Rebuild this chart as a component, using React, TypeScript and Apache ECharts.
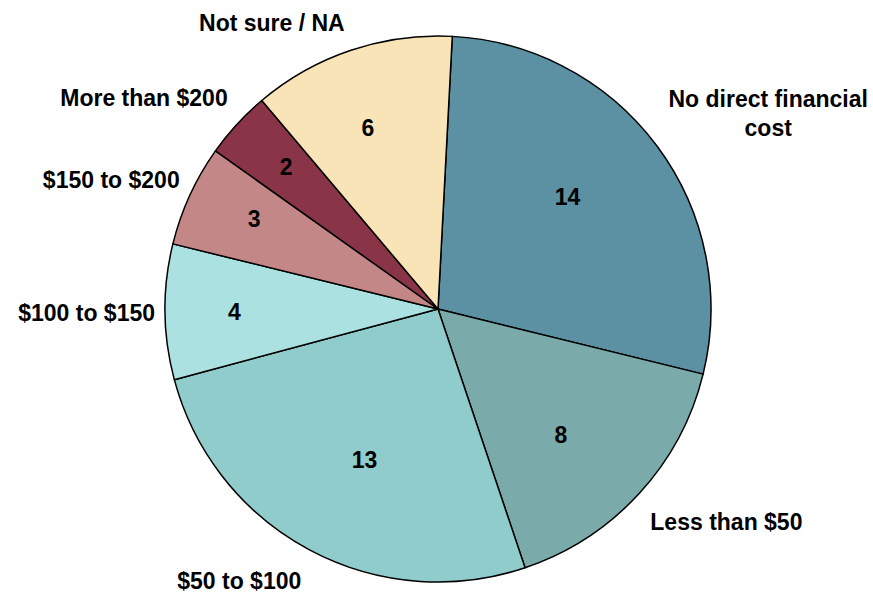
import React, { useEffect, useRef } from 'react';
import * as echarts from 'echarts';

const categories = [
  'No direct financial cost',
  'Less than $50',
  '$50 to $100',
  '$100 to $150',
  '$150 to $200',
  'More than $200',
  'Not sure / NA',
];
const values = [14, 8, 13, 4, 3, 2, 6];
const labelTexts = [
  'No direct financial\ncost',
  'Less than $50',
  '$50 to $100',
  '$100 to $150',
  '$150 to $200',
  'More than $200',
  'Not sure / NA',
];
const colors = ['#5B91A3', '#7AABAA', '#8FCCCB', '#ABE1E1', '#C48787', '#8A3447', '#F8E4B7'];

// label nudges (px) relative to ECharts' default placement
const nameOffsets = [[98, -27], [-1, 21], [2, 23], [5, 1.5], [4, -11], [3, -19], [2, -18]];
const valueOffsets = [[-9, -9], [-4, 9], [8, -1], [-31, 1], [-27, -18], [-25, -25], [-15, -18]];

const FONT = "'Liberation Sans', Arial, sans-serif";

export default function App() {
  const ref = useRef<HTMLDivElement>(null);
  useEffect(() => {
    if (!ref.current) return;
    const chart = echarts.init(ref.current, undefined, { renderer: 'svg' });
    const data = categories.map((name, i) => ({
      name,
      value: values[i],
      itemStyle: { color: colors[i] },
    }));
    const overlayData = categories.map((name, i) => ({ name, value: values[i] }));
    chart.setOption({
      animation: false,
      backgroundColor: '#ffffff',
      series: [
        {
          type: 'pie',
          center: [438, 309],
          radius: 273,
          startAngle: 87,
          clockwise: true,
          avoidLabelOverlap: false,
          data,
          itemStyle: { borderColor: '#000', borderWidth: 1.5 },
          emphasis: { disabled: true },
          label: {
            show: true,
            position: 'outside',
            formatter: (p: any) => labelTexts[p.dataIndex],
            fontFamily: FONT,
            fontSize: 23,
            fontWeight: 'bold',
            color: '#000',
            lineHeight: 29,
          },
          labelLine: { show: false, length: 10, length2: 0 },
          labelLayout: (p: any) => {
            const o = nameOffsets[p.dataIndex];
            const res: any = { dx: o[0], dy: o[1] };
            if (p.dataIndex === 0) res.align = 'center';
            return res;
          },
        },
        {
          type: 'pie',
          center: [438, 309],
          radius: [66, 273],
          startAngle: 87,
          clockwise: true,
          silent: true,
          avoidLabelOverlap: false,
          data: overlayData,
          itemStyle: { color: 'rgba(0,0,0,0)', borderWidth: 0 },
          emphasis: { disabled: true },
          label: {
            show: true,
            position: 'inside',
            formatter: '{c}',
            fontFamily: FONT,
            fontSize: 23,
            fontWeight: 'bold',
            color: '#000',
          },
          labelLine: { show: false },
          labelLayout: (p: any) => {
            const o = valueOffsets[p.dataIndex];
            return { dx: o[0], dy: o[1] };
          },
        },
      ],
    });
    return () => chart.dispose();
  }, []);
  return (
    <div
      ref={ref}
      style={{ position: 'fixed', left: 0, top: 0, width: 873, height: 594, background: '#fff' }}
    />
  );
}
